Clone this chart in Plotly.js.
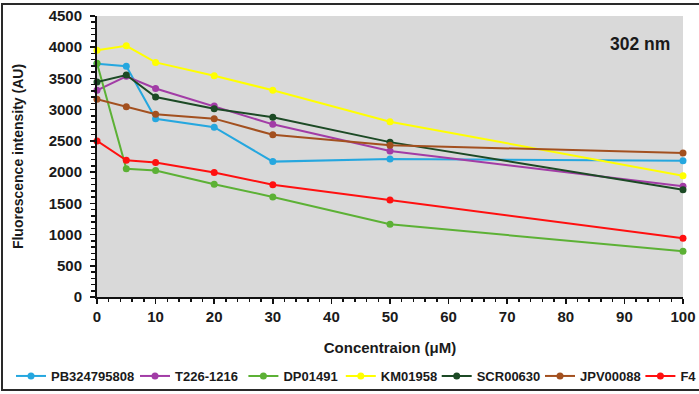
<!DOCTYPE html>
<html>
<head>
<meta charset="utf-8">
<script src="https://cdn.plot.ly/plotly-3.0.1.min.js"></script>
<style>
html,body{margin:0;padding:0;background:#fff;}
#wrap{position:relative;width:699px;height:394px;overflow:hidden;}
#frame{position:absolute;left:1px;top:3px;width:704px;height:388px;border:2px solid #2a2a2a;box-sizing:border-box;pointer-events:none;}
#chart{position:absolute;left:0;top:0;width:699px;height:394px;}
</style>
</head>
<body>
<div id="wrap"><div id="chart"></div><div id="frame"></div></div>
<script>
const concentration = [0, 5, 10, 20, 30, 50, 100];
const seriesNames = ["PB324795808", "T226-1216", "DP01491", "KM01958", "SCR00630", "JPV00088", "F4"];
const PB324795808 = [3735, 3695, 2855, 2720, 2168, 2208, 2180];
const T226_1216   = [3310, 3535, 3340, 3058, 2765, 2338, 1772];
const DP01491     = [3745, 2053, 2025, 1806, 1603, 1164, 732];
const KM01958     = [3953, 4022, 3757, 3543, 3310, 2808, 1942];
const SCR00630    = [3442, 3554, 3203, 3016, 2880, 2480, 1719];
const JPV00088    = [3166, 3048, 2927, 2856, 2598, 2432, 2305];
const F4          = [2500, 2190, 2153, 1994, 1798, 1553, 940];
const seriesValues = [PB324795808, T226_1216, DP01491, KM01958, SCR00630, JPV00088, F4];
const seriesColors = ["#25a7df", "#a23ca6", "#5cb135", "#ffff00", "#1c4a25", "#a3501f", "#ff1010"];
const xTickVals = [0,10,20,30,40,50,60,70,80,90,100];
const yTickVals = [0,500,1000,1500,2000,2500,3000,3500,4000,4500];
// horizontal start (container px) of each legend entry
const legendStarts = [11, 135, 243.4, 340.8, 436.7, 540, 640.4];

const legendFont = {family: 'Liberation Sans, Arial, sans-serif', size: 13, color: '#1a1a1a', weight: 'bold'};

const traces = seriesNames.map((name, i) => ({
  type: 'scatter',
  mode: 'lines+markers',
  name: '<b>' + name + '</b>',
  x: concentration,
  y: seriesValues[i],
  line: {color: seriesColors[i], width: 2},
  marker: {color: seriesColors[i], size: 7},
  cliponaxis: false,
  legend: i === 0 ? 'legend' : 'legend' + (i + 1)
}));

const tickFont = {family: 'Liberation Sans, Arial, sans-serif', size: 15, color: '#1a1a1a', weight: 'bold'};
const layout = {
  width: 699, height: 394,
  margin: {l: 97, r: 16, t: 16, b: 97, autoexpand: false},
  paper_bgcolor: '#ffffff',
  plot_bgcolor: '#d9d9d9',
  showlegend: true,
  xaxis: {
    range: [0, 100], tickvals: xTickVals, ticktext: xTickVals.map(String),
    showgrid: false, zeroline: false, showline: true, linecolor: '#111', linewidth: 2,
    ticks: 'outside', ticklen: 5, tickwidth: 1.5, tickcolor: '#111',
    minor: {dtick: 2, ticks: 'outside', ticklen: 3, tickwidth: 1.5, tickcolor: '#111', showgrid: false},
    tickfont: tickFont,
    title: {text: 'Concentraion (μM)', standoff: 18,
            font: {family: 'Liberation Sans, Arial, sans-serif', size: 15, color: '#1a1a1a', weight: 'bold'}}
  },
  yaxis: {
    range: [0, 4500], tickvals: yTickVals, ticktext: yTickVals.map(String),
    showgrid: false, zeroline: false, showline: true, linecolor: '#111', linewidth: 2,
    ticks: 'outside', ticklen: 5, tickwidth: 1.5, tickcolor: '#111',
    ticklabelstandoff: 5,
    minor: {dtick: 100, ticks: 'outside', ticklen: 4, tickwidth: 1.5, tickcolor: '#111', showgrid: false},
    tickfont: tickFont,
    title: {text: 'Fluorescence intensity (AU)', standoff: 22,
            font: {family: 'Liberation Sans, Arial, sans-serif', size: 14, color: '#1a1a1a', weight: 'bold'}}
  },
  annotations: [{
    text: '302 nm', xref: 'paper', yref: 'paper', x: (672 - 97) / 586, y: (297 - 44) / 281,
    xanchor: 'right', yanchor: 'middle',
    showarrow: false, font: {family: 'Liberation Sans, Arial, sans-serif', size: 17.5, color: '#1a1a1a', weight: 'bold'}
  }]
};
legendStarts.forEach((px, i) => {
  const key = i === 0 ? 'legend' : 'legend' + (i + 1);
  layout[key] = {
    orientation: 'h', xref: 'container', yref: 'container',
    x: px / 699, xanchor: 'left', y: 1 - 376 / 394, yanchor: 'middle',
    font: legendFont, itemwidth: 30, bgcolor: 'rgba(0,0,0,0)', borderwidth: 0
  };
});
Plotly.newPlot('chart', traces, layout, {displayModeBar: false, staticPlot: true});
</script>
</body>
</html>
